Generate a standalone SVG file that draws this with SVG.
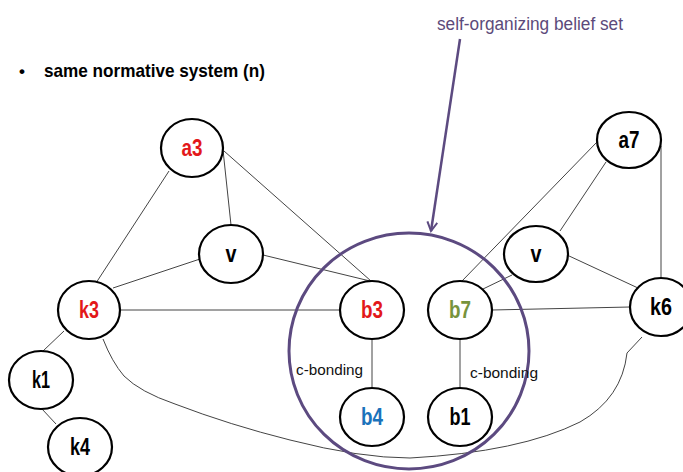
<svg xmlns="http://www.w3.org/2000/svg" width="683" height="472" viewBox="0 0 683 472">
<style>
.n ellipse{fill:#fff;stroke:#000;stroke-width:2.2}
.n text{font-family:"Liberation Sans",Arial,sans-serif;font-weight:bold;font-size:23px;text-anchor:middle}
.e{stroke:#444;stroke-width:1;fill:none}
.lbl{font-family:"Liberation Sans",Arial,sans-serif;font-size:15px;fill:#111}
</style>
<defs>
<marker id="ah" viewBox="0 0 12 12" refX="10" refY="6" markerWidth="12" markerHeight="12" markerUnits="userSpaceOnUse" orient="auto">
<path d="M1,1 L10,6 L1,11" fill="none" stroke="#5c4a80" stroke-width="2"/>
</marker>
</defs>
<rect width="683" height="472" fill="#fff"/>
<text x="19" y="77" font-family="'Liberation Sans',Arial,sans-serif" font-size="17" font-weight="bold">•</text>
<text x="44" y="77" font-family="'Liberation Sans',Arial,sans-serif" font-size="19" font-weight="bold" textLength="221" lengthAdjust="spacingAndGlyphs">same normative system (n)</text>
<text x="437" y="30" font-family="'Liberation Sans',Arial,sans-serif" font-size="18" fill="#5c4a7a" textLength="186" lengthAdjust="spacingAndGlyphs">self-organizing belief set</text>
<g id="connectors">
<line class="e" x1="169" y1="171" x2="96" y2="283"/>
<line class="e" x1="223" y1="150" x2="231" y2="225"/>
<line class="e" x1="224" y1="151" x2="371" y2="281"/>
<line class="e" x1="263" y1="255" x2="370" y2="281"/>
<line class="e" x1="200" y1="259" x2="113" y2="288"/>
<line class="e" x1="121" y1="310" x2="340" y2="310"/>
<line class="e" x1="64" y1="331" x2="43" y2="351"/>
<line class="e" x1="42" y1="409" x2="56" y2="424"/>
<line class="e" x1="372" y1="339" x2="372" y2="388"/>
<line class="e" x1="460" y1="339" x2="460" y2="388"/>
<line class="e" x1="492" y1="310" x2="630" y2="307"/>
<line class="e" x1="483" y1="289" x2="512" y2="275"/>
<line class="e" x1="462" y1="281" x2="597" y2="142"/>
<line class="e" x1="560" y1="231" x2="606" y2="162"/>
<line class="e" x1="567" y1="255" x2="638" y2="288"/>
<line class="e" x1="661" y1="146" x2="661" y2="279"/>
<path class="e" d="M103,339 Q112,362 124,376 Q140,392 175,404 Q230,425 290,440 Q360,458 410,458 Q520,452 580,422 Q622,398 627,353 L642,337"/>
<line x1="460" y1="39" x2="431" y2="231" stroke="#5c4a80" stroke-width="2.5" marker-end="url(#ah)"/>
</g>
<ellipse id="belief-set" cx="409" cy="351" rx="120" ry="118" fill="none" stroke="#5c4a80" stroke-width="3"/>
<g id="a3" class="n"><ellipse cx="192" cy="148" rx="31" ry="29"/><text x="192" y="156" fill="#e3181a" textLength="21" lengthAdjust="spacingAndGlyphs">a3</text></g>
<g id="v1" class="n"><ellipse cx="231" cy="254" rx="32" ry="29"/><text x="231" y="262" textLength="11" lengthAdjust="spacingAndGlyphs">v</text></g>
<g id="k3" class="n"><ellipse cx="89" cy="310" rx="31" ry="29"/><text x="89" y="318" fill="#e3181a" font-weight="normal" textLength="20" lengthAdjust="spacingAndGlyphs">k3</text></g>
<g id="k1" class="n"><ellipse cx="41" cy="380" rx="32" ry="29"/><text x="41" y="388" textLength="18" lengthAdjust="spacingAndGlyphs">k1</text></g>
<g id="k4" class="n"><ellipse cx="80" cy="447" rx="32" ry="29"/><text x="80" y="455" textLength="20" lengthAdjust="spacingAndGlyphs">k4</text></g>
<g id="b3" class="n"><ellipse cx="372" cy="310" rx="32" ry="29"/><text x="372" y="318" fill="#e3181a" textLength="22" lengthAdjust="spacingAndGlyphs">b3</text></g>
<g id="b4" class="n"><ellipse cx="372" cy="417" rx="32" ry="29"/><text x="372" y="425" fill="#1a72bb" textLength="22" lengthAdjust="spacingAndGlyphs">b4</text></g>
<g id="b7" class="n"><ellipse cx="460" cy="310" rx="32" ry="29"/><text x="460" y="318" fill="#77933c" textLength="22" lengthAdjust="spacingAndGlyphs">b7</text></g>
<g id="b1" class="n"><ellipse cx="460" cy="417" rx="32" ry="29"/><text x="460" y="425" textLength="21" lengthAdjust="spacingAndGlyphs">b1</text></g>
<g id="v2" class="n"><ellipse cx="536" cy="254" rx="32" ry="28"/><text x="536" y="262" textLength="11" lengthAdjust="spacingAndGlyphs">v</text></g>
<g id="a7" class="n"><ellipse cx="629" cy="140" rx="32" ry="28"/><text x="629" y="148" textLength="21" lengthAdjust="spacingAndGlyphs">a7</text></g>
<g id="k6" class="n"><ellipse cx="661" cy="307" rx="31" ry="29"/><text x="661" y="315" textLength="22" lengthAdjust="spacingAndGlyphs">k6</text></g>
<text class="lbl" x="296" y="375" textLength="67" lengthAdjust="spacingAndGlyphs">c-bonding</text>
<text class="lbl" x="470" y="378" textLength="68" lengthAdjust="spacingAndGlyphs">c-bonding</text>
</svg>
